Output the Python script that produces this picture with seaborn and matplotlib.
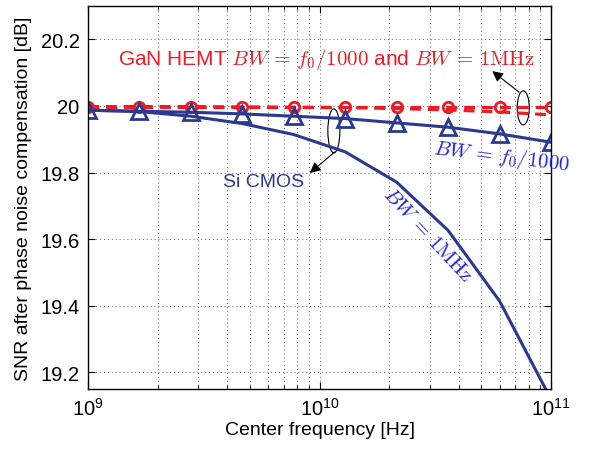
import numpy as np
import pandas as pd
import matplotlib
matplotlib.use("Agg")
import matplotlib.pyplot as plt
from matplotlib.patches import Ellipse
import seaborn as sns

# center frequencies (Hz), 10 log-spaced points from 1 GHz to 100 GHz
freq = [1e9, 1.668e9, 2.783e9, 4.642e9, 7.743e9, 1.292e10, 2.154e10, 3.594e10, 5.995e10, 1e11]

# SNR after phase noise compensation [dB]
si_f0 = [19.987, 19.984, 19.981, 19.976, 19.969, 19.962, 19.949, 19.936, 19.916, 19.891]
si_1mhz = [19.987, 19.983, 19.969, 19.947, 19.914, 19.862, 19.771, 19.626, 19.414, 19.119]
gan_f0 = [19.998, 19.998, 19.998, 19.998, 19.998, 19.998, 19.998, 19.998, 19.998, 19.998]
gan_1mhz = [19.998, 19.998, 19.998, 19.997, 19.996, 19.995, 19.992, 19.988, 19.982, 19.973]

df = pd.DataFrame({"freq": freq, "si_f0": si_f0, "si_1mhz": si_1mhz,
                   "gan_f0": gan_f0, "gan_1mhz": gan_1mhz})

sns.set_style("ticks")
plt.rcParams["font.family"] = ["Liberation Sans", "DejaVu Sans"]
plt.rcParams["mathtext.fontset"] = "cm"
plt.rcParams["text.color"] = "black"
plt.rcParams["axes.labelcolor"] = "black"
plt.rcParams["xtick.color"] = "black"
plt.rcParams["ytick.color"] = "black"

navy = "#2B3990"
red = "#ED1C24"
blue = "#2323E8"

fig, ax = plt.subplots(figsize=(6.09, 4.52), dpi=100)
fig.subplots_adjust(left=0.1445, right=0.9048, bottom=0.1372, top=0.9845)

# GaN HEMT (dashed red)
sns.lineplot(data=df, x="freq", y="gan_1mhz", ax=ax, color=red, linewidth=2.3,
             linestyle=(0, (3.4, 2.2)), sort=False, errorbar=None)
sns.lineplot(data=df, x="freq", y="gan_f0", ax=ax, color=red, linewidth=2.3,
             linestyle=(0, (3.4, 2.2)), marker="o", markersize=7.5,
             markerfacecolor="none", markeredgecolor=red, markeredgewidth=2,
             sort=False, errorbar=None)
# Si CMOS (solid navy)
sns.lineplot(data=df, x="freq", y="si_1mhz", ax=ax, color=navy, linewidth=2.2,
             sort=False, errorbar=None)
sns.lineplot(data=df, x="freq", y="si_f0", ax=ax, color=navy, linewidth=2.2,
             marker="^", markersize=11, markerfacecolor="none",
             markeredgecolor=navy, markeredgewidth=2, sort=False, errorbar=None)

ax.set_xscale("log")
ax.set_xlim(1e9, 1e11)
ax.set_ylim(19.15, 20.3)
ax.set_yticks([19.2, 19.4, 19.6, 19.8, 20.0, 20.2])
ax.set_yticklabels(["19.2", "19.4", "19.6", "19.8", "20", "20.2"])

ax.grid(True, which="major", axis="both", linestyle=(0, (1, 3)), color="#666666", linewidth=0.7)
ax.grid(True, which="minor", axis="x", linestyle=(0, (1, 3)), color="#666666", linewidth=0.7)
ax.tick_params(which="both", direction="in", top=True, right=True, labelsize=14.5, pad=6)
ax.tick_params(which="major", length=5)
ax.tick_params(which="minor", length=3)
for s in ax.spines.values():
    s.set_linewidth(1.0)
    s.set_color("black")

ax.set_xlabel("Center frequency [Hz]", fontsize=14, labelpad=1)
ax.set_ylabel("SNR after phase noise compensation [dB]", fontsize=14, labelpad=6)

# annotations
ax.text(0.514, 0.862, r"GaN HEMT $BW\,=\,f_0/1000$ and $BW\,=\,\mathrm{1MHz}$",
        transform=ax.transAxes, color=red, fontsize=15, ha="center", va="center")
ax.text(0.380, 0.543, "Si CMOS", transform=ax.transAxes, color=navy,
        fontsize=14, ha="center", va="center")
ax.text(0.894, 0.608, r"$BW\,=\,f_0/1000$", transform=ax.transAxes, color=blue,
        fontsize=15, ha="center", va="center", rotation=-7, clip_on=False)
ax.text(0.734, 0.405, r"$BW\,=\,\mathrm{1MHz}$", transform=ax.transAxes, color=blue,
        fontsize=15, ha="center", va="center", rotation=-47)

ax.add_patch(Ellipse((0.531, 0.674), 0.026, 0.115, transform=ax.transAxes,
                     fill=False, edgecolor="black", linewidth=0.8))
ax.add_patch(Ellipse((0.940, 0.734), 0.026, 0.089, transform=ax.transAxes,
                     fill=False, edgecolor="black", linewidth=0.8))
arrow = dict(arrowstyle="-|>", color="black", linewidth=0.8, mutation_scale=16,
             shrinkA=0, shrinkB=0)
ax.annotate("", xy=(0.479, 0.564), xytext=(0.533, 0.619),
            xycoords="axes fraction", textcoords="axes fraction", arrowprops=arrow)
ax.annotate("", xy=(0.873, 0.830), xytext=(0.931, 0.775),
            xycoords="axes fraction", textcoords="axes fraction", arrowprops=arrow)

if ax.get_legend() is not None:
    ax.get_legend().remove()

fig.savefig("out.png", dpi=100)
